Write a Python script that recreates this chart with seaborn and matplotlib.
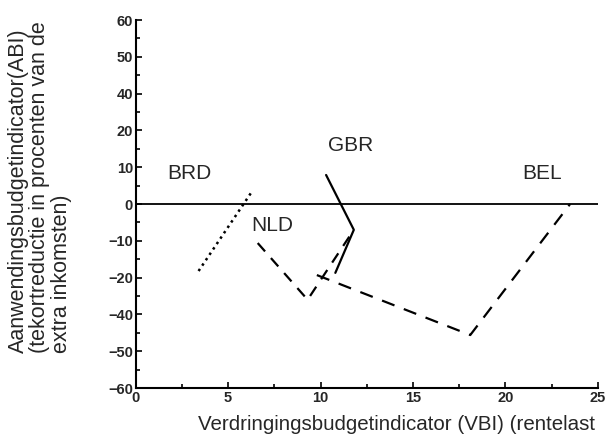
import matplotlib
matplotlib.use('Agg')
import matplotlib.pyplot as plt
import numpy as np
import pandas as pd
import seaborn as sns

# y-as heeft ongelijke stappen: labels staan op gelijke afstand
y_tick_values = [-60, -50, -40, -20, -10, 0, 10, 20, 40, 50, 60]
x_ticks = [0, 5, 10, 15, 20, 25]

# reeksen (VBI, ABI)
brd_x = [3.4, 6.3]
brd_y = [-18.2, 3.5]
nld_x = [6.6, 9.3, 11.8]
nld_y = [-10.6, -32.0, -7.0]
gbr_x = [10.3, 11.8, 10.8]
gbr_y = [7.9, -7.0, -18.7]
bel_x = [9.8, 18.1, 23.5]
bel_y = [-19.3, -45.6, 0.0]

labels = {
    'BRD': (2.9, 8.4),
    'GBR': (11.6, 16.0),
    'NLD': (7.4, -5.7),
    'BEL': (22.0, 8.4),
}

positions = np.arange(len(y_tick_values)) - 5


def fwd(y):
    return np.interp(y, y_tick_values, positions)


def inv(p):
    return np.interp(p, positions, y_tick_values)


sns.set_theme(style='ticks')
plt.rcParams['font.family'] = ['Liberation Sans', 'DejaVu Sans']

fig = plt.figure(figsize=(6.10, 4.37), dpi=100)
ax = fig.add_axes([0.2225, 0.1121, 0.7575, 0.8419])
ax.set_yscale('function', functions=(fwd, inv))

ax.axhline(0, color='black', lw=1.3)

series = [
    ('BRD', brd_x, brd_y, (0, (1, 1.6)), 1.8),
    ('NLD', nld_x, nld_y, (0, (5, 4)), 1.6),
    ('GBR', gbr_x, gbr_y, '-', 1.6),
    ('BEL', bel_x, bel_y, (0, (6, 4.5)), 1.6),
]
for name, xs, ys, ls, lw in series:
    df = pd.DataFrame({'x': xs, 'y': ys})
    sns.lineplot(data=df, x='x', y='y', sort=False, estimator=None,
                 color='black', lw=lw, linestyle=ls, ax=ax)

for name, (tx, ty) in labels.items():
    ax.text(tx, ty, name, fontsize=15, ha='center', va='center')

ax.set_xlim(0, 25)
ax.set_ylim(-60, 60)
ax.set_xticks(x_ticks)
ax.set_xticklabels([str(v) for v in x_ticks], fontweight='bold', fontsize=10.5)
ax.set_xticks(np.arange(2.5, 25, 5), minor=True)
ax.set_yticks(y_tick_values)
ax.set_yticklabels([str(v).replace('-', '\u2212') for v in y_tick_values],
                   fontweight='bold', fontsize=10.5)
ax.set_yticks(inv(positions[:-1] + 0.5), minor=True)
ax.tick_params(which='both', direction='in', color='black', width=1.2)
ax.tick_params(which='major', length=4, pad=2)
ax.tick_params(which='minor', length=3)
ax.set_xlabel('')
ax.set_ylabel('')

for side in ['top', 'right']:
    ax.spines[side].set_visible(False)
for side in ['left', 'bottom']:
    ax.spines[side].set_color('black')
    ax.spines[side].set_linewidth(1.5)

fig.text(40 / 610, 1 - 353 / 437,
         'Aanwendingsbudgetindicator(ABI)\n(tekortreductie in procenten van de\nextra inkomsten)',
         rotation=90, ha='center', va='bottom', multialignment='left',
         fontsize=15.5, linespacing=1.02)
fig.text(198 / 610, 1 - 425 / 437,
         'Verdringingsbudgetindicator (VBI) (rentelast',
         ha='left', va='center', fontsize=14.8)

fig.savefig('out.png', dpi=100)
